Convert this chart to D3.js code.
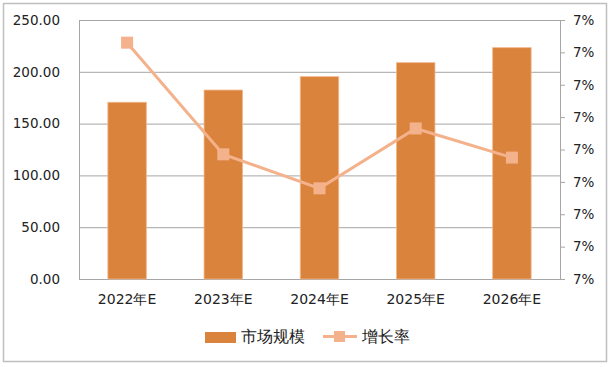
<!DOCTYPE html>
<html><head><meta charset="utf-8">
<script src="https://cdn.jsdelivr.net/npm/d3@7"></script>
<style>body{margin:0;background:#fff}svg{display:block}</style>
</head><body><svg id="c" width="610" height="367"></svg>
<script>
const categories = ["2022年E","2023年E","2024年E","2025年E","2026年E"];
const marketSize = [170.6, 182.4, 195.3, 208.8, 223.3];
const growthRate = [0.07086, 0.07017, 0.06996, 0.07033, 0.07015];
const leftTicks = [0, 50, 100, 150, 200, 250];
const rightTicks = [0.0694,0.0696,0.0698,0.0700,0.0702,0.0704,0.0706,0.0708,0.0710];
const legendLabels = ["市场规模","增长率"];

const svg = d3.select("#c");
const font = "'DejaVu Sans', sans-serif";
const L = 79, R = 560, T = 20, B = 279;
const barColor = "#D9833D", lineColor = "#F4B28C", gridColor = "#A6A6A6";

svg.append("rect").attr("x",3.5).attr("y",3.5).attr("width",603).attr("height",358)
  .attr("fill","#fff").attr("stroke","#BFBFBF").attr("stroke-width",1.5);

const x = d3.scaleBand().domain(categories).range([L,R]).paddingInner(0.6).paddingOuter(0.3);
const y = d3.scaleLinear().domain([0,250]).range([B,T]);
const y2 = d3.scaleLinear().domain([rightTicks[0], rightTicks[rightTicks.length-1]]).range([B,T]);

const gL = svg.append("g").attr("transform",`translate(${L},0)`)
  .call(d3.axisLeft(y).tickValues(leftTicks).tickSize(-(R-L)).tickFormat(d3.format(".2f")).tickPadding(19));
gL.select(".domain").attr("stroke",gridColor);
gL.selectAll(".tick line").attr("stroke",gridColor);
gL.selectAll("text").attr("font-family",font).attr("font-size",13.5).attr("fill","#222");

const gR = svg.append("g").attr("transform",`translate(${R},0)`)
  .call(d3.axisRight(y2).tickValues(rightTicks).tickSize(5).tickFormat(d3.format(".0%")).tickPadding(8));
gR.select(".domain").attr("stroke",gridColor);
gR.selectAll(".tick line").attr("stroke",gridColor);
gR.selectAll("text").attr("font-family",font).attr("font-size",13.5).attr("fill","#222");

const gB = svg.append("g").attr("transform",`translate(0,${B})`)
  .call(d3.axisBottom(x).tickSize(0).tickPadding(15));
gB.select(".domain").attr("stroke",gridColor);
gB.selectAll("text").attr("font-family",font).attr("font-size",14).attr("fill","#222");

svg.append("g").selectAll("rect").data(marketSize).join("rect")
  .attr("x",(d,i)=>x(categories[i])).attr("width",x.bandwidth())
  .attr("y",d=>y(d)).attr("height",d=>B-y(d))
  .attr("fill",barColor).attr("stroke","#F2B88C").attr("stroke-width",0.8);

const cx = i => x(categories[i]) + x.bandwidth()/2;
svg.append("path").datum(growthRate)
  .attr("d", d3.line().x((d,i)=>cx(i)).y(d=>y2(d)))
  .attr("fill","none").attr("stroke",lineColor).attr("stroke-width",3);
svg.append("g").selectAll("rect").data(growthRate).join("rect")
  .attr("x",(d,i)=>cx(i)-6).attr("y",d=>y2(d)-6).attr("width",12).attr("height",12)
  .attr("fill",lineColor);

const lg = svg.append("g");
lg.append("rect").attr("x",205).attr("y",332).attr("width",31).attr("height",11).attr("fill",barColor);
lg.append("text").attr("x",241).attr("y",341.5).text(legendLabels[0])
  .attr("font-family",font).attr("font-size",15.5).attr("fill","#222");
lg.append("line").attr("x1",323).attr("x2",357).attr("y1",336.5).attr("y2",336.5)
  .attr("stroke",lineColor).attr("stroke-width",3);
lg.append("rect").attr("x",334).attr("y",331).attr("width",11).attr("height",11).attr("fill",lineColor);
lg.append("text").attr("x",362).attr("y",341.5).text(legendLabels[1])
  .attr("font-family",font).attr("font-size",15.5).attr("fill","#222");
</script></body></html>
